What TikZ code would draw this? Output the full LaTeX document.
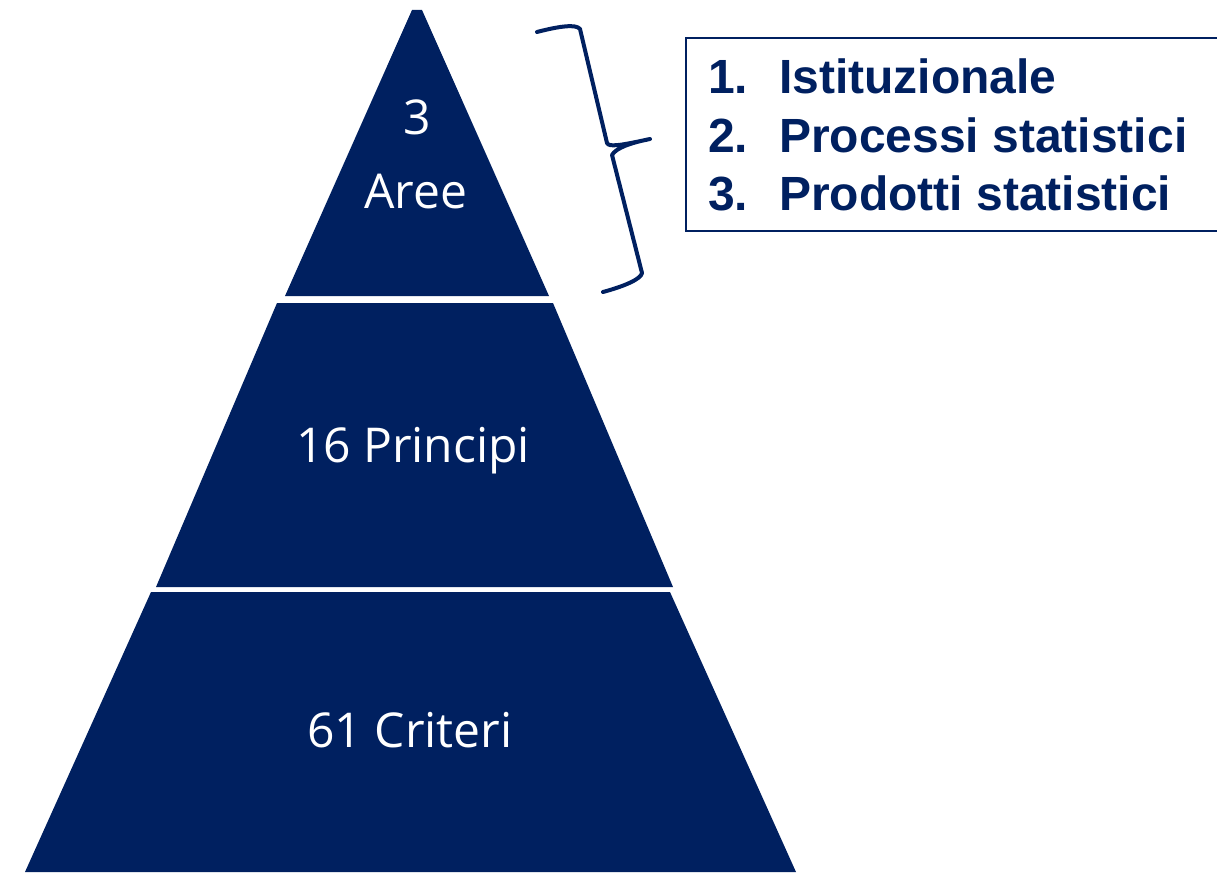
\documentclass[tikz,border=0pt]{standalone}
\usepackage{fontspec}
\setmainfont{Liberation Sans}
\newfontfamily\tierfont{Open Sans}
\definecolor{navy}{RGB}{0,32,96}
\begin{document}
\begin{tikzpicture}[x=1pt, y=-1pt,
    tier/.style={fill=navy, draw=none},
    tiertext/.style={text=white, anchor=base, inner sep=0pt, font=\tierfont\fontsize{48}{56}\selectfont},
    listtext/.style={text=navy, anchor=base west, inner sep=0pt, font=\bfseries\fontsize{48}{56}\selectfont}]
\useasboundingbox (0,0) rectangle (1217,872);

\fill[tier] (412,10)--(422,10)--(549,296)--(285,296)--cycle;
\fill[tier] (277,303)--(553,303)--(673,587)--(156,587)--cycle;
\fill[tier] (151,592)--(670,592)--(796,872)--(25,872)--cycle;

\node[tiertext] (tre) at (417,135) {3};
\node[tiertext] (aree) at (416,208) {Aree};
\node[tiertext] (principi) at (413,462) {16 Principi};
\node[tiertext] (criteri) at (410,747) {61 Criteri};

\draw[navy, line width=4pt, line cap=round, line join=round]
    (537,32) .. controls (560,26) and (576,24) .. (580,29) -- (607,143)
    .. controls (609,147) and (618,146) .. (650,139)
    .. controls (630,143) and (616,148) .. (612,155) -- (642,273)
    .. controls (641,279) and (625,286) .. (603,292);

\draw[navy, line width=1.5pt] (686,38) rectangle (1225,231);
\foreach \i/\y/\txt in {1/94/Istituzionale,2/152/Processi statistici,3/210/Prodotti statistici}
{
    \node[listtext] (num\i) at (708,\y) {\i.};
    \node[listtext] (item\i) at (779,\y) {\txt};
}
\end{tikzpicture}
\end{document}
